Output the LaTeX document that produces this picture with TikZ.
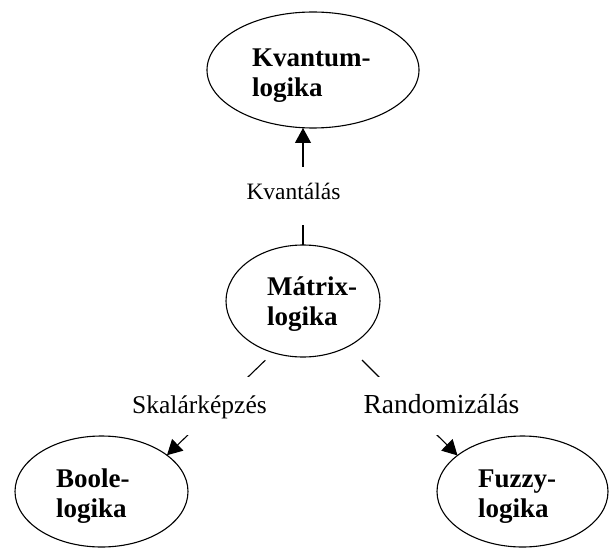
\documentclass[tikz,border=0pt]{standalone}
\usepackage{fontspec}
\setmainfont{Liberation Serif}
\usetikzlibrary{shapes.geometric,arrows.meta}

\begin{document}
\begin{tikzpicture}[
  x=1pt,y=-1pt,
  logic/.style={ellipse,draw=black,line width=1.1pt,inner sep=0pt,outer sep=0pt},
  logictext/.style={anchor=base west,align=left,inner sep=0pt,font=\bfseries\fontsize{27}{30}\selectfont},
  link/.style={line width=1.1pt,-{Triangle[length=15pt,width=16pt]}},
  linklabel/.style={fill=white,inner sep=0pt,anchor=base}
]

\useasboundingbox (0,0) rectangle (609,548);

\node[logic,minimum width=212pt,minimum height=116pt] (kvantum) at (313,70) {};
\node[logic,minimum width=154pt,minimum height=112pt] (matrix) at (303,301) {};
\node[logic,minimum width=173pt,minimum height=111pt] (boole) at (101.5,491.5) {};
\node[logic,minimum width=171pt,minimum height=111pt] (fuzzy) at (522.5,491.5) {};

% base anchor = baseline of the last line
\node[logictext] (kvantumtext) at (252,97) {Kvantum-\\logika};
\node[logictext] (matrixtext) at (267,325) {Mátrix-\\logika};
\node[logictext] (booletext) at (56,517) {Boole-\\logika};
\node[logictext] (fuzzytext) at (478,517) {Fuzzy-\\logika};

\draw[link] (matrix.north) -- (matrix.north |- kvantum.south);
\draw[link,shorten <=11pt] (matrix.240) -- (boole.29);
\draw[link,shorten <=19.5pt] (matrix.-45) -- (fuzzy.151);

\node[linklabel,text height=32pt,text depth=26pt,font=\fontsize{23.5}{28}\selectfont] (kvantalas) at (293.5,199) {Kvantálás};
\node[linklabel,text height=36pt,text depth=22pt,font=\fontsize{25.5}{30}\selectfont] (skalarkepzes) at (199.5,413) {Skalárképzés};
\node[linklabel,text height=36pt,text depth=22pt,font=\fontsize{27.5}{32}\selectfont] (randomizalas) at (441.5,413) {Randomizálás};

\end{tikzpicture}
\end{document}
